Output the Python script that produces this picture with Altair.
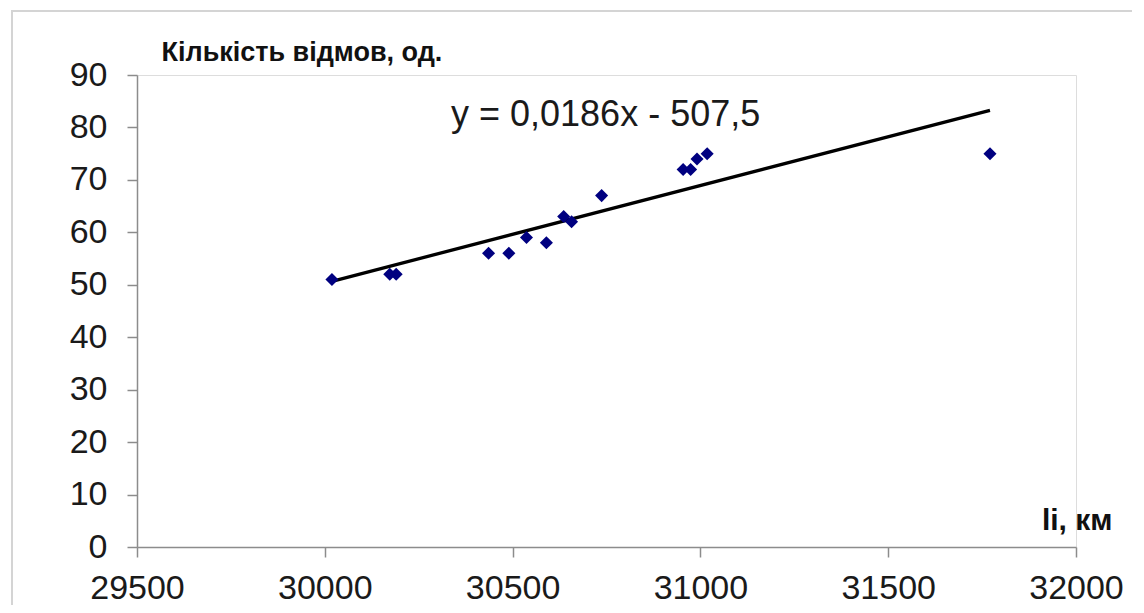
import altair as alt
import pandas as pd

# Data
mileage_km = [30019, 30173, 30190, 30436, 30490, 30537, 30590, 30636, 30657,
              30737, 30954, 30974, 30991, 31018, 31771]
failures = [51, 52, 52, 56, 56, 59, 58, 63, 62, 67, 72, 72, 74, 75, 75]
x_ticks = [29500, 30000, 30500, 31000, 31500, 32000]
y_ticks = [0, 10, 20, 30, 40, 50, 60, 70, 80, 90]
equation_text = ["y = 0,0186x - 507,5"]
y_title = "Кількість відмов, од."
x_title = "li, км"

df = pd.DataFrame({"km": mileage_km, "failures": failures})
FONT = "Liberation Sans"

x_enc = alt.X(
    "km:Q",
    scale=alt.Scale(domain=[x_ticks[0], x_ticks[-1]], nice=False, zero=False),
    axis=alt.Axis(
        values=x_ticks, format="d", grid=False, zindex=2,
        labelFont=FONT, labelFontSize=34, labelColor="#1a1a1a",
        labelPadding=14, tickSize=10, tickColor="#8c8c8c", tickWidth=1.5,
        domainColor="#8c8c8c", domainWidth=1.5,
        title=x_title, titleFont=FONT, titleFontSize=30, titleFontWeight="bold",
        titleColor="#111111", titleAlign="right", titleAnchor="end",
        titleBaseline="alphabetic", titleX=975, titleY=-18, titleAngle=0,
        labelOverlap=False, labelFlush=False,
    ),
)
y_enc = alt.Y(
    "failures:Q",
    scale=alt.Scale(domain=[y_ticks[0], y_ticks[-1]], nice=False),
    axis=alt.Axis(
        values=y_ticks, grid=False, zindex=2,
        labelFont=FONT, labelFontSize=34, labelColor="#1a1a1a",
        labelPadding=20, tickSize=10, tickColor="#8c8c8c", tickWidth=1.5,
        domainColor="#8c8c8c", domainWidth=1.5,
        title=y_title, titleFont=FONT, titleFontSize=27, titleFontWeight="bold",
        titleColor="#111111", titleAlign="left", titleAngle=0,
        titleBaseline="alphabetic", titleX=24, titleY=-15,
        labelOverlap=False, labelFlush=False,
    ),
)

frame = alt.Chart(pd.DataFrame({"f": [0]})).mark_rect(
    fillOpacity=0, stroke="#d4d4d4", strokeWidth=2
).encode(
    x=alt.value(-125), x2=alt.value(998), y=alt.value(-64), y2=alt.value(560)
)

points = alt.Chart(df).mark_point(
    shape="diamond", filled=True, size=170, color="#000080", opacity=1
).encode(x=x_enc, y=y_enc)

trend = alt.Chart(df).transform_regression("km", "failures").mark_line(
    color="black", strokeWidth=3.3
).encode(x="km:Q", y="failures:Q")

eq = alt.Chart(pd.DataFrame({"t": equation_text})).mark_text(
    font=FONT, fontSize=36, color="#1a1a1a", align="left", baseline="alphabetic"
).encode(x=alt.value(314), y=alt.value(51), text="t:N")

chart = alt.layer(frame, trend, points, eq).properties(
    width=939, height=472,
    autosize=alt.AutoSizeParams(type="none"),
    padding={"left": 129, "top": 67, "right": 56, "bottom": 58},
).configure_view(stroke=None).configure(background="white")

chart.save("out.html", embed_options={"renderer": "svg", "actions": False})
